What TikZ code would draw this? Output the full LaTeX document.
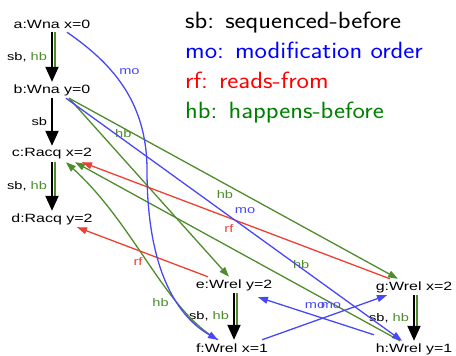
\documentclass[tikz,border=0pt]{standalone}
\usepackage{fontspec}
\newfontfamily\graphfont[FakeStretch=1.33]{Liberation Sans}
\newfontfamily\legendfont[FakeStretch=1.12]{Latin Modern Sans}
\usetikzlibrary{arrows.meta}

\definecolor{mocol}{RGB}{72,72,250}
\definecolor{hbcol}{RGB}{78,140,44}
\definecolor{rfcol}{RGB}{236,64,52}
\definecolor{legblue}{RGB}{0,0,255}
\definecolor{legred}{RGB}{255,0,0}
\definecolor{leggreen}{RGB}{0,128,0}

\begin{document}
\begin{tikzpicture}[x=1pt,y=-1pt,
  event/.style={font=\graphfont\fontsize{12}{13}\selectfont,
    minimum width=84pt, minimum height=16pt, inner sep=0pt},
  lbl/.style={font=\graphfont\fontsize{11}{12}\selectfont, inner sep=1pt},
  sbline/.style={line width=2pt, black, -{Triangle[length=15pt,width=13pt]}},
  hbpar/.style={line width=1.4pt, hbcol, shorten >=9pt},
  morel/.style={line width=1.3pt, mocol, -{Triangle[length=10pt,width=7pt]}},
  hbrel/.style={line width=1.3pt, hbcol, -{Triangle[length=10pt,width=7pt]}},
  rfrel/.style={line width=1.3pt, rfcol, -{Triangle[length=10pt,width=7pt]}},
  legend/.style={font=\legendfont\fontsize{23.5}{28}\selectfont,
    anchor=base west, inner sep=0pt},
]
\useasboundingbox (0,0) rectangle (456,356);

% events of the three threads
\node[event] (a) at (52,24)  {a:Wna x=0};
\node[event] (b) at (52,90)  {b:Wna y=0};
\node[event] (c) at (52,154) {c:Racq x=2};
\node[event] (d) at (52,219) {d:Racq y=2};
\node[event] (e) at (234,285) {e:Wrel y=2};
\node[event] (f) at (232,348) {f:Wrel x=1};
\node[event] (g) at (414,287) {g:Wrel x=2};
\node[event] (h) at (414,349) {h:Wrel y=1};

% legend
\node[legend] (lsb) at (185,28) {sb: sequenced-before};
\node[legend, text=legblue] (lmo) at (185,58) {mo: modification order};
\node[legend, text=legred] (lrf) at (185,88) {rf: reads-from};
\node[legend, text=leggreen] (lhb) at (185,118) {hb: happens-before};

% sequenced-before within each thread (green strip = also hb)
\draw[hbpar] ([xshift=3pt]a.south) -- ([xshift=3pt]b.north);
\draw[sbline] (a.south) -- (b.north)
  node[lbl, black, midway, anchor=east, xshift=-3pt] {sb, \textcolor{hbcol}{hb}};
\draw[sbline] (b.south) -- (c.north)
  node[lbl, black, midway, anchor=east, xshift=-3pt] {sb};
\draw[hbpar] ([xshift=3pt]c.south) -- ([xshift=3pt]d.north);
\draw[sbline] (c.south) -- (d.north)
  node[lbl, black, midway, anchor=east, xshift=-3pt] {sb, \textcolor{hbcol}{hb}};
\draw[hbpar] ([xshift=3pt]e.south) -- ([xshift=3pt]e.south |- f.north);
\draw[sbline] (e.south) -- (e.south |- f.north)
  node[lbl, black, midway, anchor=east, xshift=-3pt] {sb, \textcolor{hbcol}{hb}};
\draw[hbpar] ([xshift=3pt]g.south) -- ([xshift=3pt]h.north);
\draw[sbline] (g.south) -- (h.north)
  node[lbl, black, midway, anchor=east, xshift=-3pt] {sb, \textcolor{hbcol}{hb}};

% happens-before across threads
\draw[hbrel] ([xshift=17pt]b.south) -- ([xshift=-16pt]g.north)
  node[lbl, hbcol, pos=0.474, yshift=-11pt] {hb};
\draw[hbrel] ([xshift=17pt]b.south) -- ([xshift=-5pt]e.north)
  node[lbl, hbcol, pos=0.196, xshift=23pt] {hb};
\draw[hbrel] ([xshift=-14pt]h.north) -- ([xshift=23pt]c.south)
  node[lbl, hbcol, pos=0.304, yshift=22pt] {hb};
\draw[hbrel] ([xshift=-14pt]f.north) .. controls (165,310) and (135,225) ..
  ([xshift=14pt]c.south)
  node[lbl, hbcol, pos=0.25, xshift=-21pt, yshift=6pt] {hb};

% reads-from
\draw[rfrel] ([xshift=-24pt]g.north) -- ([xshift=30pt]c.south)
  node[lbl, rfcol, pos=0.523, yshift=-11pt] {rf};
\draw[rfrel] ([xshift=-26pt]e.north) -- ([xshift=25pt]d.south)
  node[lbl, rfcol, pos=0.534, yshift=-11pt] {rf};

% modification order
\draw[morel] ([xshift=15pt]a.south) .. controls (110,62) and (147,100) .. (147,170)
  node[lbl, mocol, pos=0.35, anchor=west, xshift=9pt, yshift=-4pt] {mo}
  .. controls (147,275) and (180,318) .. ([xshift=-14pt]f.north);
\draw[morel] ([xshift=14pt]b.south) -- ([xshift=-12pt]h.north)
  node[lbl, mocol, pos=0.533, yshift=17pt] {mo};
\draw[morel] ([xshift=-40pt,yshift=6pt]h.north) -- ([xshift=24pt,yshift=-4pt]e.south)
  node[lbl, mocol, pos=0.371, yshift=15pt] {mo};
\draw[morel] ([xshift=30pt]f.north) -- ([xshift=-27pt]g.south)
  node[lbl, mocol, pos=0.424, yshift=15pt] {mo};
\end{tikzpicture}
\end{document}
